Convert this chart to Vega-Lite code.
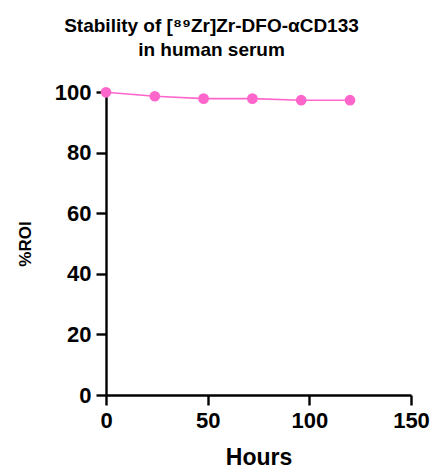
{
  "$schema": "https://vega.github.io/schema/vega-lite/v6.json",
  "autosize": "none",
  "padding": {"left": 106, "top": 92, "right": 24, "bottom": 76},
  "width": 305,
  "height": 303,
  "background": "white",
  "config": {
    "view": {"stroke": null},
    "font": "Liberation Sans"
  },
  "title": {
    "text": ["Stability of [⁸⁹Zr]Zr-DFO-αCD133", "in human serum"],
    "font": "Liberation Sans",
    "fontSize": 19,
    "fontWeight": "bold",
    "color": "black",
    "anchor": "middle",
    "dx": -47,
    "lineHeight": 24,
    "offset": 21
  },
  "data": {
    "values": [
      {"Hours": 0, "ROI": 99.9},
      {"Hours": 24, "ROI": 98.6},
      {"Hours": 48, "ROI": 97.8},
      {"Hours": 72, "ROI": 97.8},
      {"Hours": 96, "ROI": 97.3},
      {"Hours": 120, "ROI": 97.3}
    ]
  },
  "encoding": {
    "x": {
      "field": "Hours",
      "type": "quantitative",
      "scale": {"domain": [0, 150], "nice": false, "zero": false},
      "axis": {
        "title": "Hours",
        "values": [0, 50, 100, 150],
        "grid": false,
        "domainColor": "black",
        "domainWidth": 2.4,
        "tickColor": "black",
        "tickWidth": 2.4,
        "tickSize": 10,
        "labelFont": "Liberation Sans",
        "labelFontSize": 22,
        "labelFontWeight": "bold",
        "labelColor": "black",
        "labelPadding": 5,
        "labelFlush": false,
        "titleFont": "Liberation Sans",
        "titleFontSize": 23,
        "titleFontWeight": "bold",
        "titleColor": "black",
        "titlePadding": 15
      }
    },
    "y": {
      "field": "ROI",
      "type": "quantitative",
      "scale": {"domain": [0, 100], "nice": false},
      "axis": {
        "title": "%ROI",
        "values": [0, 20, 40, 60, 80, 100],
        "grid": false,
        "domainColor": "black",
        "domainWidth": 2.4,
        "tickColor": "black",
        "tickWidth": 2.4,
        "tickSize": 10,
        "labelFont": "Liberation Sans",
        "labelFontSize": 22,
        "labelFontWeight": "bold",
        "labelColor": "black",
        "labelPadding": 5,
        "labelFlush": false,
        "titleFont": "Liberation Sans",
        "titleFontSize": 17,
        "titleFontWeight": "bold",
        "titleColor": "black",
        "titlePadding": 20
      }
    }
  },
  "layer": [
    {"mark": {"type": "line", "color": "#FF66CC", "strokeWidth": 1.6}},
    {"mark": {"type": "point", "filled": true, "color": "#FF66CC", "opacity": 1, "size": 115}}
  ]
}
